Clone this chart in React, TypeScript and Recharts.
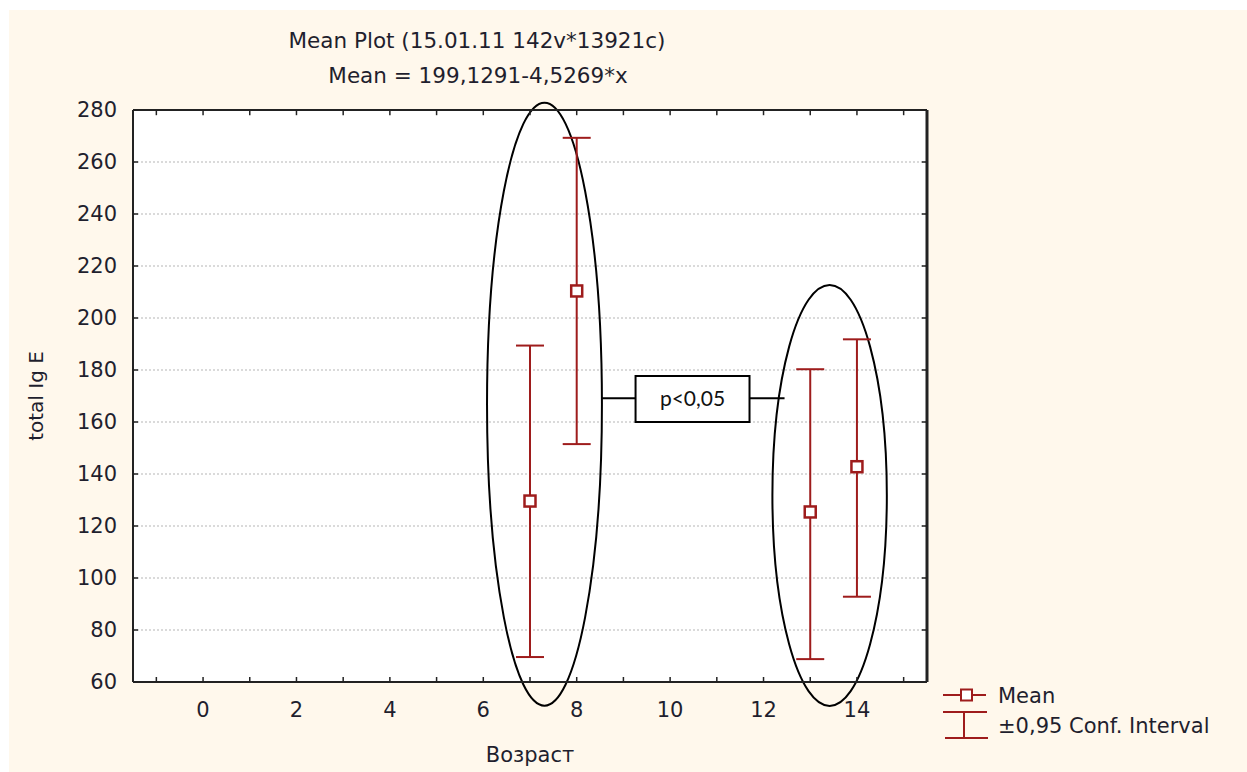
import {
  ComposedChart,
  Scatter,
  ErrorBar,
  XAxis,
  YAxis,
  CartesianGrid,
  ReferenceArea,
  ReferenceLine,
  Legend,
  Customized,
} from 'recharts';

// Mean Plot: total IgE by age (Возраст)
const ages = [7, 8, 13, 14];
const means = [129.6, 210.4, 125.4, 142.8];
const lowerCI = [69.6, 151.5, 68.8, 92.8];
const upperCI = [189.4, 269.3, 180.3, 191.8];

const xTicks = [-1, 0, 1, 2, 3, 4, 5, 6, 7, 8, 9, 10, 11, 12, 13, 14, 15];
const yTicks = [60, 80, 100, 120, 140, 160, 180, 200, 220, 240, 260, 280];

const X_DOMAIN = [-1.5, 15.5];
const Y_DOMAIN = [60, 280];

const RED = '#9E1C1C';
const FONT = '"DejaVu Sans", Arial, sans-serif';
const TEXT = '#1f1f2e';
const FRAME = '#222';

const rows = ages.map((x, i) => ({
  x,
  mean: means[i],
  err: [means[i] - lowerCI[i], upperCI[i] - means[i]],
}));

// hand-drawn annotations (data coordinates)
const groupA = { x1: 6.08, x2: 8.54, y1: 50.9, y2: 282.8 };
const groupB = { x1: 12.19, x2: 14.64, y1: 50.8, y2: 212.7 };
const pBox = { x1: 9.26, x2: 11.7, y1: 160, y2: 177.7 };
const linkY = 169.1;

const EllipseShape = (props: any) => {
  const { x, y, width, height } = props;
  return (
    <ellipse
      cx={x + width / 2}
      cy={y + height / 2}
      rx={Math.abs(width) / 2}
      ry={Math.abs(height) / 2}
      fill="none"
      stroke="#000"
      strokeWidth={2}
    />
  );
};

const MeanSquare = (props: any) => {
  const { cx, cy } = props;
  return <rect x={cx - 5.5} y={cy - 5.5} width={11} height={11} fill="#fff" stroke={RED} strokeWidth={2.5} />;
};

const xFmt = (v: number) => (v >= 0 && v <= 14 && v % 2 === 0 ? String(v) : '');

const LegendBox = () => (
  <svg width={290} height={70} style={{ display: 'block' }}>
    <line x1={3} y1={17} x2={46} y2={17} stroke={RED} strokeWidth={2} />
    <rect x={21} y={11.5} width={11} height={11} fill="#fff" stroke={RED} strokeWidth={2} />
    <text x={58} y={25} fontFamily={FONT} fontSize={21} fill={TEXT}>Mean</text>
    <line x1={3} y1={34} x2={47} y2={34} stroke={RED} strokeWidth={2} />
    <line x1={24} y1={34} x2={24} y2={60} stroke={RED} strokeWidth={2} />
    <line x1={5} y1={60} x2={48} y2={60} stroke={RED} strokeWidth={2} />
    <text x={58} y={55} fontFamily={FONT} fontSize={21} fill={TEXT}>±0,95 Conf. Interval</text>
  </svg>
);

const Titles = () => (
  <g fontFamily={FONT} fill={TEXT}>
    <text x={477} y={48} fontSize={21.5} textAnchor="middle">Mean Plot (15.01.11 142v*13921c)</text>
    <text x={478} y={83} fontSize={21.5} textAnchor="middle">Mean = 199,1291-4,5269*x</text>
    <text x={530} y={762} fontSize={21} textAnchor="middle">Возраст</text>
    <text x={43} y={396} fontSize={20} textAnchor="middle" transform="rotate(-90, 43, 396)">total Ig E</text>
  </g>
);

export default function App() {
  const tickStyle = { fill: TEXT, fontSize: 21, fontFamily: FONT };
  const axisLine = { stroke: FRAME, strokeWidth: 2 };
  const tickLine = { stroke: FRAME, strokeWidth: 1.5 };
  return (
    <div style={{ position: 'absolute', left: 0, top: 0, width: 1247, height: 772, background: '#fff' }}>
      <div style={{ position: 'absolute', left: 9, top: 10, width: 1238, height: 762, background: '#FFF8EC' }} />
      <div style={{ position: 'absolute', left: 0, top: 0 }}>
        <ComposedChart
          width={1247}
          height={772}
          data={rows}
          margin={{ top: 110, right: 320, bottom: 30, left: 63 }}
        >
          <CartesianGrid
            fill="#fff"
            vertical={false}
            stroke="#b5b5b5"
            strokeDasharray="2 2"
          />
          <XAxis
            dataKey="x"
            type="number"
            domain={X_DOMAIN}
            ticks={xTicks}
            interval={0}
            allowDataOverflow
            height={60}
            tickSize={-5}
            tickMargin={25}
            tickFormatter={xFmt}
            tick={tickStyle}
            axisLine={axisLine}
            tickLine={tickLine}
          />
          <YAxis
            type="number"
            domain={Y_DOMAIN}
            ticks={yTicks}
            interval={0}
            allowDataOverflow
            width={70}
            tickSize={-5}
            tickMargin={21}
            tick={tickStyle}
            axisLine={axisLine}
            tickLine={tickLine}
          />
          {/* plot frame: top and right edges with inward ticks */}
          <ReferenceLine
            segment={[{ x: X_DOMAIN[0], y: Y_DOMAIN[1] }, { x: X_DOMAIN[1], y: Y_DOMAIN[1] }]}
            ifOverflow="visible"
            stroke={FRAME}
            strokeWidth={2}
          />
          <ReferenceLine
            segment={[{ x: X_DOMAIN[1], y: Y_DOMAIN[0] }, { x: X_DOMAIN[1], y: Y_DOMAIN[1] }]}
            ifOverflow="visible"
            stroke={FRAME}
            strokeWidth={3}
          />
          {xTicks.map((t) => (
            <ReferenceLine
              key={'tx' + t}
              segment={[{ x: t, y: Y_DOMAIN[1] }, { x: t, y: Y_DOMAIN[1] - 2 }]}
              stroke={FRAME}
              strokeWidth={1.5}
            />
          ))}
          {yTicks.map((t) => (
            <ReferenceLine
              key={'ty' + t}
              segment={[{ x: X_DOMAIN[1], y: t }, { x: X_DOMAIN[1] - 0.11, y: t }]}
              stroke={FRAME}
              strokeWidth={1.5}
            />
          ))}
          <ReferenceArea {...groupA} ifOverflow="visible" shape={EllipseShape} />
          <ReferenceArea {...groupB} ifOverflow="visible" shape={EllipseShape} />
          <ReferenceLine
            segment={[{ x: groupA.x2, y: linkY }, { x: pBox.x1, y: linkY }]}
            ifOverflow="visible"
            stroke="#000"
            strokeWidth={2}
          />
          <ReferenceLine
            segment={[{ x: pBox.x2, y: linkY }, { x: 12.45, y: linkY }]}
            ifOverflow="visible"
            stroke="#000"
            strokeWidth={2}
          />
          <ReferenceArea
            {...pBox}
            ifOverflow="visible"
            fill="#fff"
            fillOpacity={1}
            stroke="#000"
            strokeWidth={2}
            label={{ value: 'p<0,05', position: 'center', fontFamily: 'Lato, "Open Sans", sans-serif', fontSize: 21, fill: '#111' }}
          />
          <Scatter dataKey="mean" name="Mean" shape={MeanSquare} isAnimationActive={false}>
            <ErrorBar dataKey="err" direction="y" width={14} stroke={RED} strokeWidth={2} isAnimationActive={false} />
          </Scatter>
          <Legend
            layout="vertical"
            align="center"
            verticalAlign="middle"
            content={LegendBox}
            wrapperStyle={{ position: 'absolute', left: 940, top: 678, width: 290, height: 70 }}
          />
          <Customized component={Titles} />
        </ComposedChart>
      </div>
    </div>
  );
}
